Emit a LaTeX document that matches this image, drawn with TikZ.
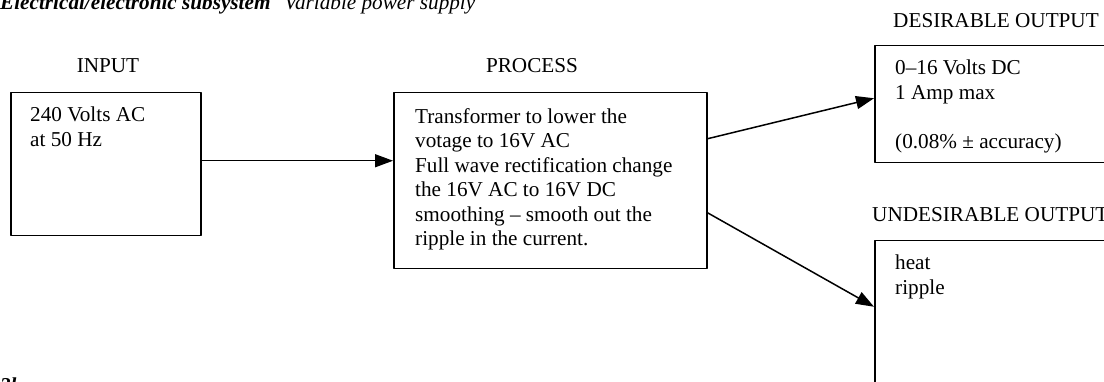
\documentclass[tikz,border=0pt]{standalone}
\usepackage{fontspec}
\setmainfont{Liberation Serif}
\usetikzlibrary{arrows.meta}
\tikzset{
  blk/.style={draw, line width=1.5pt, inner sep=0pt, anchor=north west},
  lbl/.style={anchor=base, inner sep=0pt},
  txt/.style={anchor=north west, align=left, inner sep=0pt},
  flow/.style={-{Triangle[length=18pt,width=13pt]}, line width=1.5pt}
}
\begin{document}
\begin{tikzpicture}[x=1pt, y=-1pt, font=\fontsize{21.2}{24.5}\selectfont, line join=round]
			\useasboundingbox (0,0) rectangle (1104,382);
			\clip (0,0) rectangle (1104,382);
			% title and figure number (cut by the page edge)
			\node[anchor=base west, inner sep=0pt] (title) at (0,10) {\textbf{\textit{Electrical/electronic subsystem}}\hspace{14pt}\textit{Variable power supply}};
			\node[anchor=base west, inner sep=0pt, font=\fontsize{21.2}{24.5}\selectfont\bfseries\itshape] (fig) at (0,392) {3b};
			% boxes
			\node[blk, minimum width=190pt, minimum height=143pt] (input) at (10,92) {};
			\node[blk, minimum width=313pt, minimum height=176pt] (process) at (393,92) {};
			\node[blk, minimum width=250pt, minimum height=117pt] (desirable) at (874,45) {};
			\node[blk, minimum width=250pt, minimum height=180pt] (undesirable) at (874,240) {};
			% headings
			\node[lbl] (inlbl) at (108,73) {INPUT};
			\node[lbl] (proclbl) at (532,73) {PROCESS};
			\node[lbl] (deslbl) at (996,28) {DESIRABLE OUTPUT};
			\node[lbl, anchor=base west] (undlbl) at (872,222) {UNDESIRABLE OUTPUT};
			% box contents
			\node[txt] (intxt) at (30,107) {240 Volts AC\\at 50 Hz};
			\node[txt] (proctxt) at (415,108) {Transformer to lower the\\votage to 16V AC\\Full wave rectification change\\the 16V AC to 16V DC\\smoothing – smooth out the\\ripple in the current.};
			\node[txt] (destxt) at (895,60) {0–16 Volts DC\\1 Amp max\\\mbox{}\\(0.08\% ± accuracy)};
			\node[txt] (undtxt) at (895,255) {heat\\ripple};
			% flows
			\draw[flow] ([yshift=3.5pt]input.east) -- ([yshift=3.5pt]input.east -| process.west);
			\draw[flow] ([yshift=42pt]process.east) -- ([yshift=6pt]desirable.west);
			\draw[flow] ([yshift=-32pt]process.east) -- ([yshift=24pt]undesirable.west);
		\end{tikzpicture}
\end{document}
